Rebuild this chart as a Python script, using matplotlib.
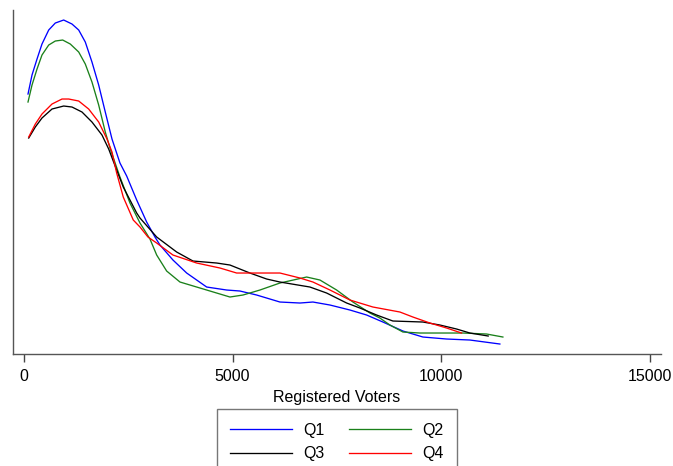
import numpy as np
import matplotlib
matplotlib.use('Agg')
import matplotlib.pyplot as plt

plt.rcParams['font.family'] = ['Liberation Sans', 'DejaVu Sans']

# kernel density estimates by quartile (density, arbitrary units x 1e-4)
q1_x = [96, 192, 312, 431, 592, 750, 951, 1150, 1311, 1469, 1629, 1790, 1948, 2109, 2300,
        2461, 2701, 2940, 3139, 3259, 3570, 3899, 4378, 4857, 5176, 5576, 6134, 6614, 6925,
        7333, 7812, 8212, 8602, 9082, 9561, 10129, 10687, 11046, 11406]
q1_y = [2.67, 2.86, 3.02, 3.17, 3.31, 3.38, 3.41, 3.37, 3.31, 3.19, 2.99, 2.76, 2.49, 2.22, 1.98,
        1.85, 1.61, 1.39, 1.24, 1.16, 1.01, 0.88, 0.74, 0.71, 0.70, 0.66, 0.59, 0.58, 0.59,
        0.56, 0.51, 0.46, 0.39, 0.30, 0.24, 0.22, 0.21, 0.19, 0.17]

q2_x = [96, 192, 312, 431, 592, 750, 927, 1109, 1311, 1469, 1629, 1790, 1948, 2068, 2300,
        2540, 2780, 3019, 3180, 3419, 3738, 4378, 4936, 5248, 5655, 6134, 6774, 7093, 7493,
        7884, 8291, 8530, 8770, 9082, 9489, 9968, 10519, 11087, 11478]
q2_y = [2.59, 2.76, 2.92, 3.06, 3.16, 3.20, 3.21, 3.17, 3.09, 2.97, 2.79, 2.56, 2.29, 2.12, 1.84,
        1.58, 1.38, 1.22, 1.06, 0.90, 0.79, 0.71, 0.64, 0.66, 0.71, 0.78, 0.84, 0.81, 0.71,
        0.59, 0.48, 0.43, 0.36, 0.29, 0.28, 0.28, 0.28, 0.27, 0.24]

q3_x = [113, 271, 431, 671, 951, 1150, 1390, 1629, 1869, 2030, 2221, 2379, 2701, 2780, 3180,
        3659, 4050, 4617, 4936, 5415, 5816, 6134, 6853, 7253, 7733, 8051, 8451, 8842, 9561,
        9968, 10368, 10687, 11126]
q3_y = [2.23, 2.34, 2.43, 2.52, 2.55, 2.54, 2.49, 2.39, 2.26, 2.12, 1.91, 1.74, 1.48, 1.43, 1.24,
        1.09, 1.00, 0.98, 0.96, 0.88, 0.82, 0.79, 0.74, 0.68, 0.58, 0.53, 0.46, 0.40, 0.39,
        0.36, 0.32, 0.28, 0.25]

q4_x = [113, 271, 431, 671, 911, 1071, 1311, 1550, 1790, 1989, 2109, 2221, 2379, 2619, 2780,
        2971, 3180, 3570, 4138, 4697, 5097, 5487, 6134, 6614, 6925, 7333, 7812, 8363, 9010,
        9321, 9729, 10129, 10488]
q4_y = [2.24, 2.37, 2.47, 2.57, 2.62, 2.62, 2.60, 2.52, 2.39, 2.22, 2.09, 1.88, 1.64, 1.41, 1.34,
        1.24, 1.18, 1.06, 0.98, 0.93, 0.88, 0.88, 0.88, 0.83, 0.79, 0.71, 0.61, 0.54, 0.49,
        0.44, 0.38, 0.33, 0.28]

labels = ['Q1', 'Q2', 'Q3', 'Q4']
colors = ['#0000ff', '#1a801a', '#000000', '#ff0000']
xticks = [0, 5000, 10000, 15000]

fig = plt.figure(figsize=(6.73, 4.66), dpi=100)
ax = fig.add_axes([0.0193, 0.2403, 0.9627, 0.7382])

lines = {}
for lab, xs, ys, c in zip(labels, [q1_x, q2_x, q3_x, q4_x], [q1_y, q2_y, q3_y, q4_y], colors):
    lines[lab], = ax.plot(xs, ys, color=c, lw=0.95, label=lab)

ax.set_xlim(-264, 15265)
ax.set_ylim(0.07, 3.51)
ax.set_xticks(xticks)
ax.set_xticklabels([str(t) for t in xticks], fontsize=11.5)
ax.set_yticks([])
ax.tick_params(axis='x', length=6, width=1, color='#444444', pad=5)
for s in ['top', 'right']:
    ax.spines[s].set_visible(False)
for s in ['left', 'bottom']:
    ax.spines[s].set_color('#555555')
    ax.spines[s].set_linewidth(1.0)
ax.set_xlabel('Registered Voters', fontsize=11.5, labelpad=4)

order = ['Q1', 'Q3', 'Q2', 'Q4']
fig.legend([lines[k] for k in order], order, ncol=2, loc='upper center',
           bbox_to_anchor=(0.5007, 1 - 409 / 466), fontsize=11.5, frameon=True,
           fancybox=False, edgecolor='#777777', framealpha=1, borderaxespad=0,
           handlelength=3.9, handletextpad=0.7, columnspacing=1.5,
           labelspacing=0.55, borderpad=0.85)

fig.savefig('out.png', dpi=100)
